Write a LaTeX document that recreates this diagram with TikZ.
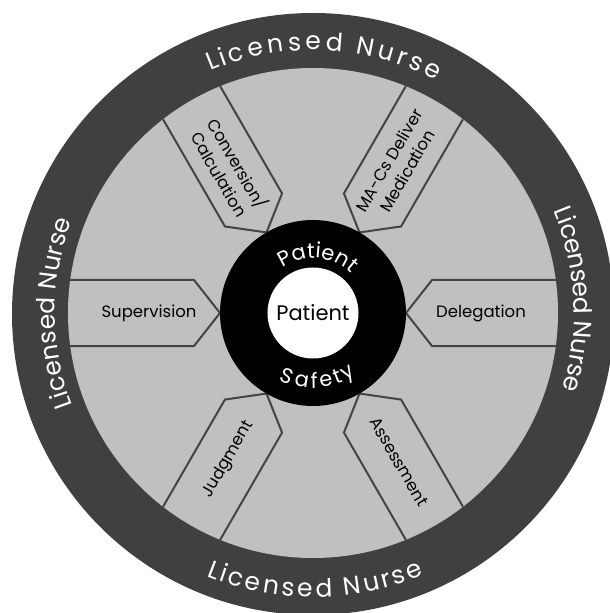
\documentclass[tikz,border=0pt]{standalone}
\usepackage{fontspec}
\setmainfont{Poppins}
\usetikzlibrary{decorations.text}

\definecolor{ringgray}{HTML}{404040}
\definecolor{fieldgray}{HTML}{C0C0C0}
\definecolor{edgegray}{HTML}{444444}

\tikzset{
  arrowbox/.style={draw=edgegray, line width=2pt, line join=miter},
  boxlabel/.style={font=\fontsize{16.5}{21}\selectfont, align=center, inner sep=0pt},
  curvetext/.style 2 args={decorate, decoration={text effects along path, text={#1},
      text effects/.cd, text along path, fit text to path,
      characters={text=white, font=\fontsize{#2}{#2}\selectfont}}},
}

\begin{document}
\begin{tikzpicture}[x=1pt, y=1pt]
\useasboundingbox (-313,-300) rectangle (297,313);

%% rings
\fill[ringgray] (0,-1) circle (301);
\fill[fieldgray] (0,0) circle (245);

%% arrow boxes
\begin{scope}
\clip (0,0) circle (245);
\draw[arrowbox] (260,33) -- (119,33) -- (93,0) -- (119,-33) -- (260,-33);
\draw[arrowbox, rotate=60] (260,33) -- (119,33) -- (93,0) -- (119,-33) -- (260,-33);
\draw[arrowbox, rotate=120] (260,33) -- (119,33) -- (93,0) -- (119,-33) -- (260,-33);
\draw[arrowbox, rotate=180] (260,33) -- (119,33) -- (93,0) -- (119,-33) -- (260,-33);
\draw[arrowbox, rotate=240] (260,33) -- (119,33) -- (93,0) -- (119,-33) -- (260,-33);
\draw[arrowbox, rotate=300] (260,33) -- (119,33) -- (93,0) -- (119,-33) -- (260,-33);
\end{scope}

%% centre
\fill[black] (0,0) circle (93);
\fill[white] (0,0) circle (45.5);
\node[font=\fontsize{21}{21}\selectfont, inner sep=0pt] (core) at (0,0) {Patient};

%% box labels
\node[boxlabel] (deleg) at (0:168) {Delegation};
\node[boxlabel, rotate=60] (macs) at (60:170) {MA-Cs Deliver\\Medication};
\node[boxlabel, rotate=-60] (conv) at (120:167) {Conversion/\\Calculation};
\node[boxlabel] (superv) at (180:164) {Supervision};
\node[boxlabel, rotate=60] (judg) at (240:169) {Judgment};
\node[boxlabel, rotate=-60] (assess) at (300:172) {Assessment};

%% curved texts
\path[curvetext={Licensed Nurse}{25}] (113:263) arc[start angle=113, end angle=62, radius=263];
\path[curvetext={Licensed Nurse}{25}] (248:284) arc[start angle=248, end angle=293, radius=284];
\path[curvetext={Licensed Nurse}{25}] (201:258) arc[start angle=201, end angle=159, radius=258];
\path[curvetext={Licensed Nurse}{25}] (23:261) arc[start angle=23, end angle=-17, radius=261];
\path[curvetext={Patient}{21}] (124:55) arc[start angle=124, end angle=46, radius=55];
\path[curvetext={Safety}{21}] (243:75) arc[start angle=243, end angle=305, radius=75];

\end{tikzpicture}
\end{document}
